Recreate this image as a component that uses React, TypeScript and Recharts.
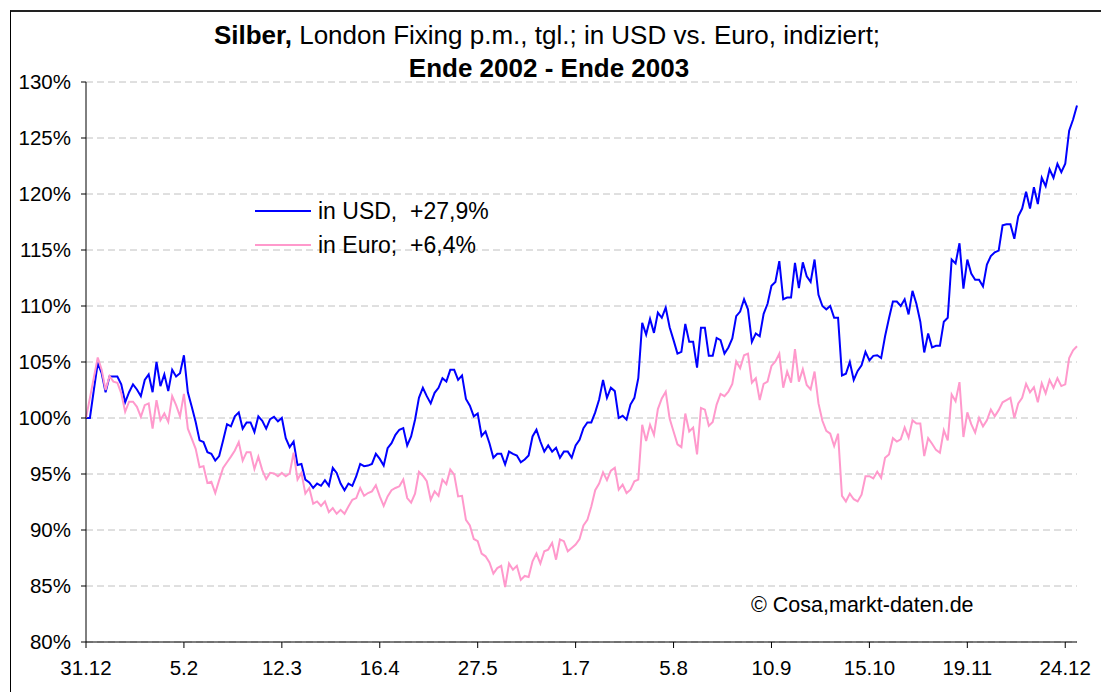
import { LineChart, Line, XAxis, YAxis, CartesianGrid } from 'recharts';

// Stichtage an den Achsenmarken (alle 25 Handelstage)
const tickDates = ['31.12', '5.2', '12.3', '16.4', '27.5', '1.7', '5.8', '10.9', '15.10', '19.11', '24.12'];
const yTicks = [80, 85, 90, 95, 100, 105, 110, 115, 120, 125, 130];

// Silber in USD, indiziert (31.12.2002 = 100)
const silverUsd = [
  100.0, 100.0, 102.5, 104.9, 104.0, 102.3, 103.7, 103.7, 103.7, 103.0,
  101.4, 102.3, 103.0, 102.55, 101.95, 103.4, 103.9, 102.3, 105.0, 102.85,
  103.9, 102.4, 104.3, 103.7, 104.0, 105.6, 102.3, 101.0, 99.65, 98.0,
  97.85, 96.95, 96.8, 96.2, 96.6, 98.0, 99.45, 99.25, 100.15, 100.5,
  99.05, 99.6, 99.6, 98.75, 100.15, 99.75, 99.05, 99.9, 100.1, 99.7,
  100.0, 98.2, 97.4, 97.9, 95.8, 95.9, 94.5, 94.25, 93.75, 94.15,
  93.95, 94.45, 93.95, 95.55, 95.1, 94.15, 93.55, 94.15, 93.95, 94.8,
  95.9, 95.7, 95.75, 95.9, 96.8, 96.35, 95.75, 97.3, 97.75, 98.5,
  98.95, 99.1, 97.55, 98.35, 99.85, 101.8, 102.7, 101.95, 101.3, 102.25,
  102.7, 103.55, 103.25, 104.3, 104.3, 103.4, 103.8, 101.7, 101.1, 100.15,
  100.4, 98.4, 98.8, 97.75, 96.45, 96.8, 96.8, 95.85, 97.0, 96.8,
  96.65, 96.05, 96.3, 96.65, 98.35, 98.95, 97.9, 97.0, 97.55, 97.0,
  97.35, 96.45, 97.0, 97.0, 96.45, 97.55, 98.05, 99.1, 99.6, 99.6,
  100.5, 101.65, 103.4, 101.8, 102.7, 102.4, 100.0, 100.2, 99.85, 101.2,
  101.8, 103.55, 108.5, 107.45, 108.85, 107.6, 109.4, 108.95, 109.85, 108.1,
  106.95, 105.75, 105.9, 108.4, 106.8, 106.8, 104.5, 108.05, 108.05, 105.55,
  105.55, 107.15, 106.95, 105.75, 106.3, 107.1, 109.1, 109.5, 110.6, 109.7,
  106.8, 107.55, 107.3, 109.3, 110.2, 111.8, 112.15, 114.0, 110.6, 110.75,
  110.75, 113.85, 111.6, 113.9, 112.65, 112.15, 114.15, 111.0, 110.0, 109.7,
  110.0, 108.95, 108.95, 103.8, 103.95, 105.0, 103.4, 104.2, 104.7, 105.9,
  105.15, 105.55, 105.6, 105.35, 107.3, 108.9, 110.4, 110.4, 110.0, 110.6,
  109.25, 111.35, 110.2, 108.6, 105.85, 107.55, 106.3, 106.45, 106.45, 108.6,
  108.95, 114.15, 113.8, 115.6, 111.55, 114.15, 112.9, 112.35, 112.35, 111.75,
  113.7, 114.45, 114.8, 114.95, 117.2, 117.3, 117.3, 116.0, 118.0, 118.7,
  120.2, 118.7, 120.6, 119.1, 121.45, 120.7, 122.2, 121.45, 122.7, 121.95,
  122.7, 125.65, 126.65, 127.9,
];

// Silber in Euro, indiziert
const silverEur = [
  100.0, 101.8, 103.6, 105.4, 104.3, 102.5, 103.75, 103.25, 103.15, 102.2,
  100.55, 101.45, 101.45, 101.0, 100.1, 101.15, 101.3, 99.05, 101.6, 99.8,
  100.4, 99.65, 101.95, 101.15, 100.15, 102.15, 99.05, 98.15, 97.25, 95.6,
  95.7, 94.2, 94.3, 93.3, 94.45, 95.55, 96.05, 96.55, 97.1, 97.85,
  96.2, 96.95, 96.95, 95.45, 96.55, 95.35, 94.55, 95.1, 95.05, 94.8,
  95.1, 94.8, 95.05, 96.9, 94.5, 95.1, 93.25, 93.75, 92.35, 92.55,
  92.15, 92.55, 91.6, 91.95, 91.45, 91.8, 91.45, 92.1, 92.7, 92.85,
  93.75, 93.05, 93.3, 93.45, 94.0, 93.0, 92.15, 93.0, 93.55, 93.75,
  93.9, 94.5, 92.85, 92.45, 93.25, 95.2, 94.85, 94.35, 92.7, 93.45,
  93.05, 94.5, 94.1, 95.4, 94.95, 93.0, 93.05, 90.9, 90.4, 89.2,
  89.0, 87.9, 87.65, 87.1, 86.1, 86.6, 86.8, 84.9, 87.0, 86.45,
  86.8, 85.55, 85.9, 85.8, 87.2, 87.9, 87.0, 88.1, 88.25, 88.85,
  87.35, 89.15, 89.0, 88.1, 88.4, 88.7, 89.2, 90.4, 90.9, 92.1,
  93.55, 94.15, 95.15, 94.45, 95.3, 95.55, 93.6, 94.05, 93.3, 93.6,
  94.35, 94.5, 99.4, 97.95, 99.4, 98.5, 100.8, 101.75, 102.35, 99.95,
  98.8, 97.65, 97.4, 100.4, 98.8, 99.15, 96.75, 100.9, 100.75, 99.3,
  99.65, 101.2, 102.15, 101.95, 102.35, 103.05, 105.05, 104.45, 105.6, 105.75,
  103.15, 103.55, 101.6, 103.05, 103.25, 104.65, 105.05, 105.75, 102.7, 104.15,
  103.15, 106.15, 103.25, 104.35, 102.95, 102.55, 104.15, 101.3, 99.75, 98.85,
  98.6, 97.5, 98.6, 93.05, 92.55, 93.25, 92.75, 92.55, 93.15, 94.8,
  94.8, 94.6, 95.2, 94.65, 96.45, 96.75, 98.2, 97.9, 98.1, 99.15,
  98.25, 99.8, 99.5, 99.5, 96.6, 98.2, 97.7, 97.15, 96.9, 98.9,
  98.0, 102.1, 101.5, 103.2, 98.3, 100.5, 99.45, 98.7, 100.0, 99.25,
  99.8, 100.75, 100.15, 100.7, 101.4, 101.6, 101.8, 100.0, 101.3, 101.8,
  103.05, 102.3, 102.75, 101.4, 103.1, 102.2, 103.4, 102.7, 103.55, 102.85,
  103.0, 105.35, 106.05, 106.4,
];

const FONT = '"Liberation Sans", Arial, sans-serif';
const BLUE = '#0000ff';
const PINK = '#ff99cc';

export default function App() {
  const data = silverUsd.map((v, i) => ({ i, usd: v, eur: silverEur[i] }));
  const xTicks = tickDates.map((_, k) => k * 25);

  return (
    <div style={{ position: 'absolute', left: 0, top: 0, width: 1101, height: 692, background: '#fff', fontFamily: FONT, overflow: 'hidden' }}>
      {/* Rahmen */}
      <div style={{ position: 'absolute', left: 10, top: 10, right: -5, bottom: -5, borderTop: '2px solid #222', borderLeft: '1px solid #000' }} />

      <LineChart
        width={1101}
        height={692}
        data={data}
        margin={{ top: 82, right: 24, bottom: 0, left: 0 }}
        style={{ position: 'absolute', left: 0, top: 0 }}
      >
        <CartesianGrid horizontal vertical={false} stroke="#c0c0c0" strokeDasharray="7 4" />
        <XAxis
          dataKey="i"
          type="number"
          domain={[0, silverUsd.length - 1]}
          ticks={xTicks}
          tickFormatter={(v: number) => tickDates[Math.round(v / 25)]}
          height={50}
          stroke="#000"
          tickSize={6}
          tickMargin={12}
          tick={{ fill: '#000', fontSize: 20.5, fontFamily: FONT }}
          interval={0}
        />
        <YAxis
          type="number"
          domain={[80, 130]}
          ticks={yTicks}
          tickFormatter={(v: number) => `${v}%`}
          width={86}
          stroke="#000"
          tickSize={5}
          tickMargin={10}
          tick={{ fill: '#000', fontSize: 20.5, fontFamily: FONT }}
          interval={0}
        />
        <Line type="linear" dataKey="usd" stroke={BLUE} strokeWidth={2} dot={false} isAnimationActive={false} />
        <Line type="linear" dataKey="eur" stroke={PINK} strokeWidth={2} dot={false} isAnimationActive={false} />
      </LineChart>

      {/* Titel */}
      <div style={{ position: 'absolute', left: 0, width: 1094, top: 20, textAlign: 'center', fontSize: 26, lineHeight: '30px' }}>
        <b>Silber,</b> London Fixing p.m., tgl.; in USD vs. Euro, indiziert;
      </div>
      <div style={{ position: 'absolute', left: 0, width: 1098, top: 53, textAlign: 'center', fontSize: 26, lineHeight: '30px', fontWeight: 'bold' }}>
        Ende 2002 - Ende 2003
      </div>

      {/* Legende */}
      <div style={{ position: 'absolute', left: 255, top: 196, fontSize: 23, lineHeight: '30px', whiteSpace: 'pre' }}>
        <div style={{ display: 'flex', alignItems: 'center' }}>
          <span style={{ display: 'inline-block', width: 56, height: 2, background: BLUE, marginRight: 7 }} />
          <span>{'in USD,  +27,9%'}</span>
        </div>
        <div style={{ display: 'flex', alignItems: 'center', marginTop: 4 }}>
          <span style={{ display: 'inline-block', width: 56, height: 2, background: PINK, marginRight: 7 }} />
          <span>{'in Euro;  +6,4%'}</span>
        </div>
      </div>

      {/* Quelle */}
      <div style={{ position: 'absolute', left: 751, top: 591, fontSize: 21.5, lineHeight: '28px' }}>
        © Cosa,markt-daten.de
      </div>
    </div>
  );
}
